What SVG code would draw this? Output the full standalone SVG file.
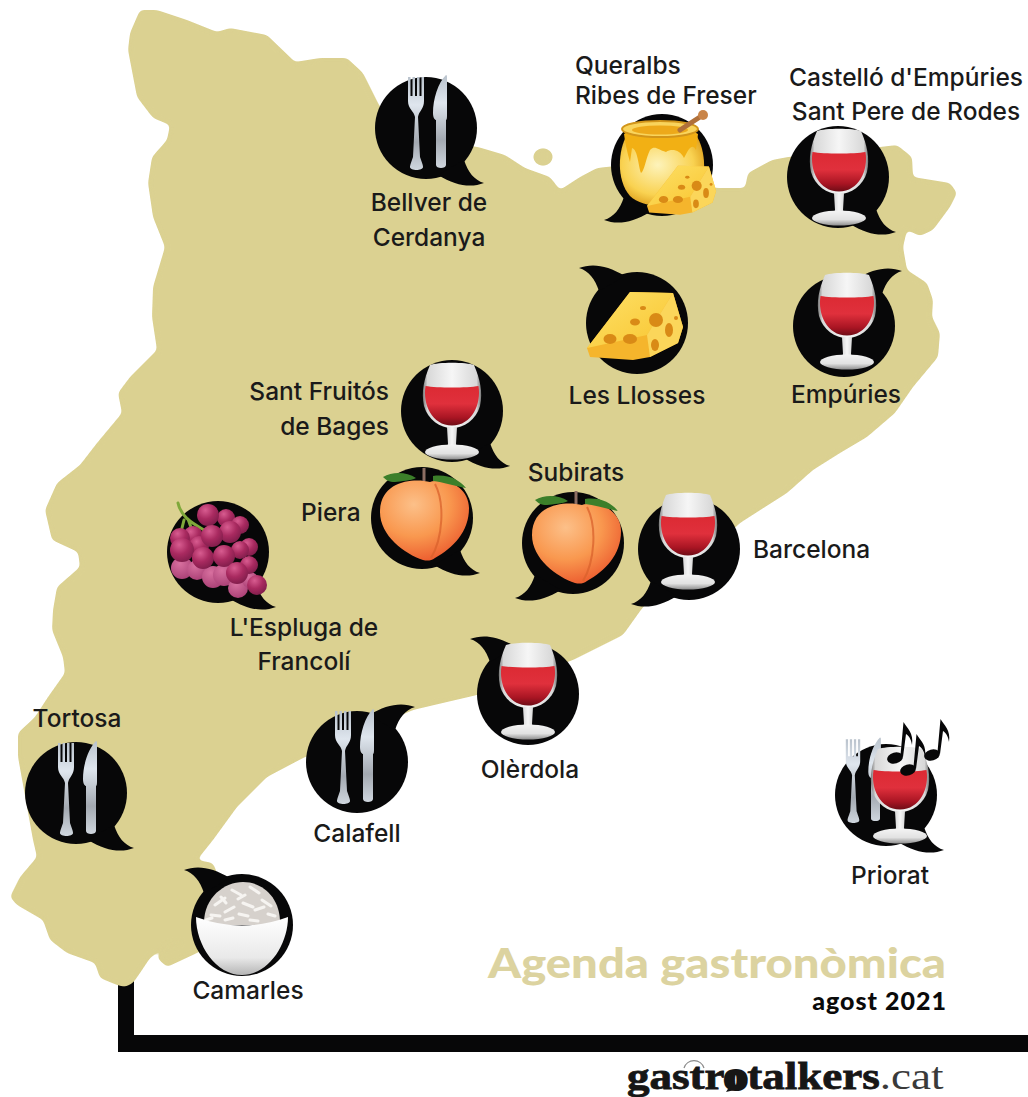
<svg xmlns="http://www.w3.org/2000/svg" width="1028" height="1097" viewBox="0 0 1028 1097">
<style>
.lb{font-family:Inter,"Liberation Sans",sans-serif;font-weight:500;font-size:24.5px;fill:#1a1a1a;transform:translateY(1px)}
.m{text-anchor:middle}
.e{text-anchor:end}
.bk{fill:#070708}
</style>
<defs>
<filter id="soft" x="-5%" y="-5%" width="110%" height="110%" color-interpolation-filters="sRGB"><feGaussianBlur stdDeviation="2.6"/><feComponentTransfer><feFuncA type="linear" slope="7" intercept="-3"/></feComponentTransfer></filter>
<linearGradient id="gGlass" x1="0" x2="1" y1="0" y2="0"><stop offset="0" stop-color="#777"/><stop offset=".08" stop-color="#d8d8d8"/><stop offset=".5" stop-color="#f6f6f6"/><stop offset=".92" stop-color="#d8d8d8"/><stop offset="1" stop-color="#777"/></linearGradient>
<linearGradient id="gWine" x1="0" x2="0" y1="0" y2="1"><stop offset="0" stop-color="#dc2a33"/><stop offset=".45" stop-color="#e0303c"/><stop offset=".8" stop-color="#a91523"/><stop offset="1" stop-color="#6f0c16"/></linearGradient>
<linearGradient id="gFoot" x1="0" x2="0" y1="0" y2="1"><stop offset="0" stop-color="#f4f4f4"/><stop offset=".6" stop-color="#e2e2e2"/><stop offset="1" stop-color="#8f8f8f"/></linearGradient>
<linearGradient id="gSteel" x1="0" x2="0" y1="0" y2="1"><stop offset="0" stop-color="#b9c2cc"/><stop offset=".3" stop-color="#dfe6ee"/><stop offset=".7" stop-color="#a3a9b1"/><stop offset="1" stop-color="#cfd6de"/></linearGradient>
<radialGradient id="gPeach" cx=".38" cy=".3" r=".8"><stop offset="0" stop-color="#fcc089"/><stop offset=".5" stop-color="#f9984f"/><stop offset="1" stop-color="#e94f28"/></radialGradient>
<radialGradient id="gGrape" cx=".38" cy=".28" r=".8"><stop offset="0" stop-color="#d85c90"/><stop offset=".5" stop-color="#a92a60"/><stop offset="1" stop-color="#7a1b48"/></radialGradient>
<radialGradient id="gGrapeP" cx=".4" cy=".3" r=".8"><stop offset="0" stop-color="#d8709f"/><stop offset="1" stop-color="#a63c72"/></radialGradient>
<linearGradient id="gCheese" x1="0" x2="1" y1="0" y2="1"><stop offset="0" stop-color="#fde168"/><stop offset="1" stop-color="#f9c530"/></linearGradient>
<radialGradient id="gPot" cx=".45" cy=".42" r=".65"><stop offset="0" stop-color="#fdf3bb"/><stop offset=".65" stop-color="#f9d251"/><stop offset="1" stop-color="#d8930f"/></radialGradient>
<linearGradient id="gBowl" x1="0" x2="0" y1="0" y2="1"><stop offset="0" stop-color="#ffffff"/><stop offset=".7" stop-color="#e9e9e9"/><stop offset="1" stop-color="#b5b5b5"/></linearGradient>
<g id="bubble"><circle r="51" class="bk"/><path class="bk" d="M38,32C42,44 48,52 58,55C45,60 30,58 12,47Z"/></g>
<g id="wine">
<path fill="url(#gGlass)" d="M-22,-49C-14,-52 14,-52 22,-49C28,-35 31,-22 28,-8C24,6 12,14 0,14C-12,14 -24,6 -28,-8C-31,-22 -28,-35 -22,-49Z"/>
<path fill="url(#gWine)" d="M-26.500,-28C-15,-26 15,-26 26.500,-28C29.500,-10 20,11.500 0,11.500C-20,11.500 -29.500,-10 -26.500,-28Z"/>
<path fill="url(#gGlass)" d="M-5,13H5L4,30L6,35H-6L-4,30Z"/>
<ellipse cy="38" rx="27" ry="7.5" fill="url(#gFoot)"/>
</g>
<g id="cutlery" fill="url(#gSteel)">
<path d="M-18,-52h2.5V-33h2V-52h2.5V-33h2V-52h2.5V-33h2V-52h2.5V-28C-2,-20 -7,-18 -8,-12L-6,28C-4,34 -3,36 -3,38C-3,42 -16,42 -16,38C-16,36 -15,34 -13,28L-11,-12C-12,-18 -18,-20 -18,-28Z"/>
<path d="M20,-54C12,-46 7,-30 7,-16C7,-11 9,-9 10,-9L10,36C10,40 20,40 20,36L20,-9C21,-9 21,-12 21,-14L21,-50C21,-53 21,-54 20,-54Z"/>
</g>
<g id="peach">
<path fill="url(#gPeach)" d="M5,-36C-10,-40 -45,-38 -45,-6C-45,18 -20,36 -2,42C2,43 6,43 10,40C28,30 44,14 44,-10C44,-30 22,-42 5,-36Z"/>
<path fill="#3c7f2a" d="M-42,-41C-32,-47 -18,-46 -9,-40C-14,-37 -24,-37 -30,-36C-36,-36 -39,-38 -42,-41Z"/>
<path fill="#3c7f2a" d="M8,-42C24,-44 34,-38 41,-30C30,-32 18,-36 8,-37Z"/>
<path d="M10,-34C20,-15 18,20 6,40" fill="none" stroke="#d9622c" stroke-width="2" opacity=".75"/>
<path d="M-1,-50V-37" stroke="#8d6e63" stroke-width="3"/>
</g>
<g id="cheese">
<path fill="#f5b52c" d="M-50,25L-7,-31L36,-30L46,4L41,20L13,34L-4,37L-47,34Z"/>
<path fill="url(#gCheese)" d="M-50,25L-7,-31L36,-30L10,12Z"/>
<path fill="#fbd65a" d="M36,-30L46,4L41,20L13,34L10,12Z"/>
<g fill="#d98a16"><ellipse cx="-27" cy="16" rx="6.5" ry="5"/><ellipse cx="-7" cy="16" rx="7" ry="5"/><ellipse cx="-2" cy="-1" rx="5" ry="3.5"/><ellipse cx="19" cy="-3" rx="7" ry="7"/><ellipse cx="32" cy="7" rx="4" ry="7"/><ellipse cx="18" cy="22" rx="4" ry="6"/><ellipse cx="6" cy="-15" rx="3" ry="2"/><ellipse cx="39" cy="-5" rx="2" ry="2"/></g>
</g>
<g id="note" class="bk"><ellipse rx="8" ry="5.5" transform="rotate(-15)"/><path d="M5.5,-3L8.5,-36C12,-30 19,-25 17,-13C16,-19 14,-22 11,-24L8,-1Z"/></g>
</defs>
<rect width="1028" height="1097" fill="#fff"/>

<g id="frame"><path d="M118,980H134V1035H1028V1052H118Z" class="bk"/></g>

<g id="map" filter="url(#soft)" fill="#dbd191">
<polygon points="140,10 157,10 187,20 217,32 230,28 267,35 295,62 320,58 347,58 363,73 380,107 440,142 478,147 505,155 525,168 550,177 560,190 580,177 597,168 625,165 700,185 717,188 745,188 748,173 772,160 788,157 880,147 897,145 912,157 913,177 950,183 957,193 950,207 933,230 920,236 907,230 903,247 907,270 927,283 933,300 932,317 940,333 938,357 913,387 895,413 867,437 840,453 813,470 787,493 740,523 700,560 643,607 623,635 573,660 477,695 447,702 413,710 303,758 267,777 237,807 213,840 197,860 213,863 217,873 240,930 197,953 167,967 157,958 163,950 182,942 167,945 150,958 140,973 133,983 125,987 117,985 100,978 95,963 67,953 50,940 43,920 17,905 10,897 20,877 37,857 33,840 18,757 18,733 35,717 48,697 65,673 63,657 52,630 53,610 57,587 80,567 78,552 52,540 45,510 57,483 80,465 97,443 122,413 118,393 130,377 157,350 152,317 153,287 165,247 153,217 148,183 152,157 167,140 170,125 153,118 137,97 128,50 130,33"/>
<ellipse cx="543" cy="157" rx="10" ry="9"/>
</g>

<g id="bellver"><use href="#bubble" transform="translate(426,128)"/><use href="#cutlery" transform="translate(426,129)"/><text class="lb m" x="429" y="210">Bellver de</text><text class="lb m" x="429" y="245">Cerdanya</text></g>

<g id="queralbs"><use href="#bubble" transform="translate(662,165) scale(-1,1)"/>
<path fill="url(#gPot)" d="M627,135C618,150 616,180 630,196C642,209 682,210 695,196C708,180 706,150 696,135Z"/>
<path fill="#f2b014" d="M624,134C635,125 686,125 698,134L696,150C692,142 688,150 684,158C680,150 672,148 666,152C658,150 655,145 650,150C646,158 644,172 641,173C638,165 638,150 632,148L630,162C627,152 625,142 624,134Z"/>
<ellipse cx="660" cy="129" rx="38" ry="8" fill="#f9d45c" stroke="#d2951a" stroke-width="2"/>
<ellipse cx="660" cy="130" rx="28" ry="4.5" fill="#eda91a"/>
<path d="M680,130L703,115" stroke="#b0703a" stroke-width="5" stroke-linecap="round"/><circle cx="703" cy="115" r="5" fill="#c98448"/>
<use href="#cheese" transform="translate(683,188) scale(.72)"/>
<text class="lb" x="575" y="73">Queralbs</text><text class="lb" x="575" y="103">Ribes de Freser</text></g>

<g id="castello"><use href="#bubble" transform="translate(838,177)"/><use href="#wine" transform="translate(839,180)"/><text class="lb m" x="906" y="85">Castelló d'Empúries</text><text class="lb m" x="906" y="119">Sant Pere de Rodes</text></g>

<g id="llosses"><use href="#bubble" transform="translate(637,323) scale(-1,-1)"/><use href="#cheese" transform="translate(637,323)"/><text class="lb m" x="637" y="403">Les Llosses</text></g>

<g id="empuries"><use href="#bubble" transform="translate(844,326) scale(1,-1)"/><use href="#wine" transform="translate(847,324)"/><text class="lb m" x="846" y="402">Empúries</text></g>

<g id="santfruitos"><use href="#bubble" transform="translate(452,411)"/><use href="#wine" transform="translate(452,414)"/><text class="lb e" x="389" y="399">Sant Fruitós</text><text class="lb e" x="389" y="434">de Bages</text></g>

<g id="piera"><use href="#bubble" transform="translate(422,518)"/><use href="#peach" transform="translate(425,518)"/><text class="lb" x="301" y="520">Piera</text></g>

<g id="subirats"><use href="#bubble" transform="translate(573,543) scale(-1,1)"/><use href="#peach" transform="translate(577,541)"/><text class="lb m" x="576" y="480">Subirats</text></g>

<g id="barcelona"><use href="#bubble" transform="translate(689,549) scale(-1,1)"/><use href="#wine" transform="translate(688,544)"/><text class="lb" x="753" y="557">Barcelona</text></g>

<g id="espluga"><use href="#bubble" transform="translate(218,552)"/>
<path d="M178,503C181,516 190,522 204,530M184,520L181,532M188,519L192,530" fill="none" stroke="#7fa83a" stroke-width="3" stroke-linecap="round"/>
<g fill="url(#gGrapeP)"><circle cx="182" cy="568" r="11"/><circle cx="197" cy="570" r="10"/><circle cx="213" cy="577" r="11"/><circle cx="224" cy="575" r="11"/><circle cx="238" cy="588" r="10"/><circle cx="250" cy="580" r="8"/></g>
<g fill="url(#gGrape)"><circle cx="249" cy="565" r="9"/><circle cx="193" cy="536" r="10"/><circle cx="180" cy="538" r="10"/><circle cx="226" cy="518" r="9"/><circle cx="240" cy="525" r="9"/><circle cx="249" cy="547" r="9"/><circle cx="240" cy="550" r="9"/><circle cx="199" cy="546" r="10"/><circle cx="208" cy="515" r="11"/><circle cx="230" cy="532" r="11"/><circle cx="212" cy="536" r="11"/><circle cx="182" cy="550" r="12"/><circle cx="203" cy="558" r="11"/><circle cx="224" cy="556" r="11"/><circle cx="257" cy="585" r="10"/><circle cx="237" cy="573" r="11"/></g>
<text class="lb m" x="304" y="635">L'Espluga de</text><text class="lb m" x="304" y="669">Francolí</text></g>

<g id="olerdola"><use href="#bubble" transform="translate(528,694) scale(-1,-1)"/><use href="#wine" transform="translate(528,694)"/><text class="lb m" x="530" y="777">Olèrdola</text></g>

<g id="calafell"><use href="#bubble" transform="translate(357,762) scale(1,-1)"/><use href="#cutlery" transform="translate(353,763)"/><text class="lb m" x="357" y="841">Calafell</text></g>

<g id="tortosa"><use href="#bubble" transform="translate(76,793)"/><use href="#cutlery" transform="translate(76,795)"/><text class="lb m" x="77" y="726">Tortosa</text></g>

<g id="priorat"><use href="#bubble" transform="translate(886,795)"/><use href="#cutlery" transform="translate(862,786) scale(.9)"/><use href="#wine" transform="translate(900,798)"/>
<use href="#note" transform="translate(895,758)"/><use href="#note" transform="translate(908,770)"/><use href="#note" transform="translate(932,755)"/>
<text class="lb m" x="890" y="883">Priorat</text></g>

<g id="camarles"><use href="#bubble" transform="translate(242,925) scale(-1,-1)"/>
<path d="M204,925C203,898 224,882 243,882C263,882 281,898 280,925Z" fill="#d6d1cc"/>
<g fill="none" stroke="#f6f4f1" stroke-width="3" stroke-linecap="round"><path d="M215,905l10,-7M232,890l9,5M250,887l9,6M225,912l9,-5M243,903l10,4M262,900l9,6M211,915l9,1M221,897l5,6M238,899l7,-4M255,910l9,-3M239,914l9,2M268,914l7,2M225,920l8,-2M250,920l8,1M206,920l6,-2"/></g>
<path d="M196,917Q242,934 288,917C288,945 268,975 242,975C216,975 196,945 196,917Z" fill="url(#gBowl)"/>
<text class="lb m" x="248" y="998">Camarles</text></g>

<g id="title">
<text x="488" y="978" font-family="Lato,'Open Sans',sans-serif" font-weight="900" font-size="41" fill="#dcd3a0" textLength="458" lengthAdjust="spacingAndGlyphs">Agenda gastronòmica</text>
<text x="947" y="1010" text-anchor="end" font-family="Lato,'Open Sans',sans-serif" font-weight="900" font-size="25" fill="#0a0a0a" letter-spacing="1">agost 2021</text>
</g>
<g id="logo">
<path d="M684,1068A10.500,10.500 0 0 1 704,1068" fill="none" stroke="#8a8a8a" stroke-width="1.200"/>
<path d="M731,1084L726,1092L739,1089Z" fill="#161616"/>
<text transform="translate(627,1089) scale(1.186,1)" font-family="'Liberation Serif',serif" font-size="38" fill="#161616"><tspan font-weight="700" stroke="#161616" stroke-width=".8">gastr</tspan><tspan font-weight="700" stroke="#161616" stroke-width="4">o</tspan><tspan font-weight="700" stroke="#161616" stroke-width=".8">talkers</tspan><tspan fill="#3a3a3a">.cat</tspan></text>
</g>
</svg>
